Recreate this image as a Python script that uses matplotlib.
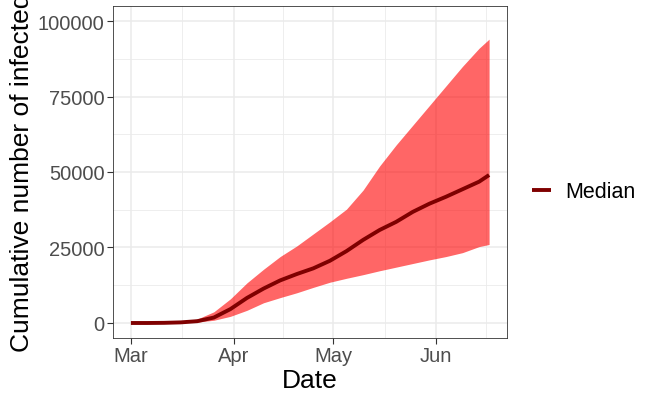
import numpy as np
import pandas as pd
import matplotlib
matplotlib.use("Agg")
import matplotlib.pyplot as plt
import matplotlib.dates as mdates

plt.rcParams['font.family'] = ['Liberation Sans', 'DejaVu Sans']

# values
dates = ["2020-03-01", "2020-03-06", "2020-03-11", "2020-03-16", "2020-03-21",
         "2020-03-26", "2020-03-31", "2020-04-05", "2020-04-10", "2020-04-15",
         "2020-04-20", "2020-04-25", "2020-04-30", "2020-05-05", "2020-05-10",
         "2020-05-15", "2020-05-20", "2020-05-25", "2020-05-30", "2020-06-04",
         "2020-06-09", "2020-06-14", "2020-06-17"]
median = [0, 0, 50, 200, 600, 1800, 4600, 8300, 11400, 14100, 16200, 18100,
          20600, 23800, 27500, 30800, 33500, 36800, 39500, 41800, 44300, 46800, 49000]
upper = [0, 0, 100, 400, 1300, 3700, 8000, 13300, 17800, 22000, 25500, 29500,
         33500, 37700, 44000, 52000, 59000, 65500, 72000, 78500, 85000, 91000, 94000]
lower = [0, 0, 20, 100, 300, 900, 2200, 4200, 6700, 8400, 10000, 11800,
         13500, 14800, 16000, 17300, 18500, 19700, 20900, 22000, 23300, 25300, 26000]

x = pd.to_datetime(dates)

fig = plt.figure(figsize=(6.51, 4.02), dpi=100)
ax = fig.add_axes([113/651, 63/402, 394/651, 332/402])

ax.fill_between(x, lower, upper, color='red', alpha=0.6, linewidth=0, zorder=2)
ax.plot(x, median, color='#7F0000', lw=2.8, label='Median', zorder=3,
        solid_capstyle='butt')

# limits with ggplot-like 5% expansion
span = x[-1] - x[0]
ax.set_xlim(x[0] - span * 0.05, x[-1] + span * 0.05)
ax.set_ylim(-4970, 104970)

ax.set_xticks(pd.to_datetime(["2020-03-01", "2020-04-01", "2020-05-01", "2020-06-01"]))
ax.xaxis.set_major_formatter(mdates.DateFormatter('%b'))
ax.set_xticks(pd.to_datetime(["2020-03-16 12:00", "2020-04-16 00:00", "2020-05-16 12:00",
                              "2020-06-16 00:00"]), minor=True)
ax.set_yticks([0, 25000, 50000, 75000, 100000])
ax.set_yticks([12500, 37500, 62500, 87500], minor=True)

ax.grid(which='major', color='#EBEBEB', lw=1.1, zorder=0)
ax.grid(which='minor', color='#EBEBEB', lw=0.6, zorder=0)
ax.set_axisbelow(True)

for s in ax.spines.values():
    s.set_color('#333333')
    s.set_linewidth(0.6)

ax.tick_params(which='major', length=4, width=0.8, color='#333333',
               labelsize=14.5, labelcolor='#4D4D4D', pad=2)
ax.tick_params(which='minor', length=0)

ax.set_xlabel('Date', fontsize=19, labelpad=2)
ax.set_ylabel('Cumulative number of infected', fontsize=19, labelpad=3)

fig.legend(loc='center left', bbox_to_anchor=(513/651, 1 - 193/402), frameon=False,
           fontsize=15.5, handlelength=0.85, handletextpad=0.7)

fig.savefig('out.png', dpi=100)
